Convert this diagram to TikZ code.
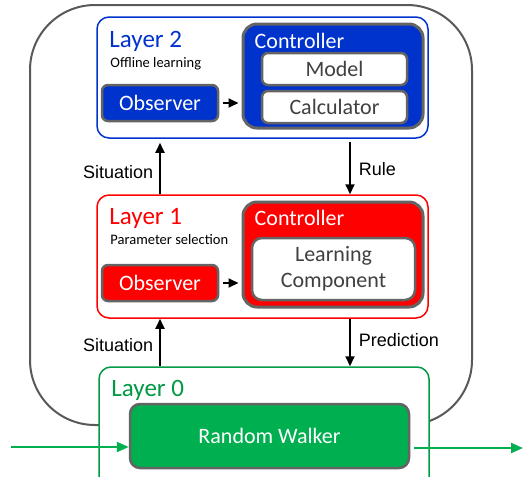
\documentclass[tikz,border=0pt]{standalone}
\usepackage{fontspec}
\setmainfont{Carlito}
\newfontfamily\labelfont{Liberation Sans}
\usepackage{tikz}
\usetikzlibrary{calc, positioning, arrows.meta}
\definecolor{layerBlue}{RGB}{0, 51, 204}
\definecolor{layerRed}{RGB}{255, 0, 0}
\definecolor{layerGreen}{RGB}{0, 153, 68}
\definecolor{walkerGreen}{RGB}{0, 176, 80}
\definecolor{boxGray}{RGB}{100, 100, 100}
\definecolor{outerGray}{RGB}{89, 89, 89}
\definecolor{textGray}{RGB}{64, 64, 64}

\begin{document}
\begin{tikzpicture}[
  x=1pt, y=-1pt,
  layer/.style={draw, line width=1.5pt, fill=white, rounded corners=12pt, minimum width=331pt, inner sep=0pt},
  inner/.style={draw=boxGray, line width=2.5pt, rounded corners=6pt, inner sep=0pt, font=\fontsize{22}{26}\selectfont},
  part/.style={inner, fill=white, text=textGray, minimum width=145pt, minimum height=32pt},
  title/.style={anchor=base west, inner sep=0pt, font=\fontsize{25}{30}\selectfont},
  sub/.style={anchor=base west, inner sep=0pt, font=\fontsize{14.5}{17}\selectfont},
  flow/.style={-{Triangle[length=10pt, width=9pt]}, line width=1.8pt},
  feed/.style={-{Triangle[length=12pt, width=10pt]}, line width=2pt, walkerGreen},
  lbl/.style={font=\labelfont\fontsize{18}{21}\selectfont, inner sep=0pt}
]
  \useasboundingbox (0,0) rectangle (523,477);
  \clip (0,0) rectangle (523,477);

  % Outer frame
  \draw[outerGray, line width=2pt, rounded corners=65pt] (30,5) rectangle (472,425);

  % Layer 2 (blue)
  \node[layer, draw=layerBlue, minimum height=121pt] (layer2) at (262.5,77.5) {};
  \node[title, text=layerBlue] at ([xshift=13pt, yshift=-31pt]layer2.north west) {Layer 2};
  \node[sub] at ([xshift=14pt, yshift=-51pt]layer2.north west) {Offline learning};
  \node[inner, fill=layerBlue, text=white, minimum width=116pt, minimum height=36pt] (obs2) at (160,103) {Observer};
  \node[inner, line width=3pt, rounded corners=14pt, fill=layerBlue, minimum width=180pt, minimum height=104pt] (ctrl2) at (333,76) {};
  \node[title, text=white, font=\fontsize{22}{26}\selectfont] at ([xshift=13pt, yshift=-26pt]ctrl2.north west) {Controller};
  \node[part] (model) at (334.5,69) {Model};
  \node[part] (calc) at (334.5,107) {Calculator};

  % Layer 1 (red)
  \node[layer, draw=layerRed, minimum height=123pt] (layer1) at (262.5,256.5) {};
  \node[title, text=layerRed] at ([xshift=13pt, yshift=-30pt]layer1.north west) {Layer 1};
  \node[sub] at ([xshift=14pt, yshift=-50pt]layer1.north west) {Parameter selection};
  \node[inner, fill=layerRed, text=white, minimum width=116pt, minimum height=36pt] (obs1) at (160,283) {Observer};
  \node[inner, line width=3pt, rounded corners=14pt, fill=layerRed, minimum width=180pt, minimum height=105pt] (ctrl1) at (333,254.5) {};
  \node[title, text=white, font=\fontsize{22}{26}\selectfont] at ([xshift=13pt, yshift=-25pt]ctrl1.north west) {Controller};
  \node[part, rounded corners=10pt, align=center, minimum width=163pt, minimum height=62pt] (learn) at (333.5,269) {Learning\\Component};

  % Layer 0 (green)
  \node[layer, draw=layerGreen, minimum width=330pt, minimum height=133pt] (layer0) at (264,433.5) {};
  \node[title, text=layerGreen] at ([xshift=13pt, yshift=-30pt]layer0.north west) {Layer 0};
  \node[inner, rounded corners=10pt, fill=walkerGreen, text=white, minimum width=279pt, minimum height=64pt] (walker) at (269.5,436) {Random Walker};

  % Inside the layers
  \draw[flow, shorten <=4pt, shorten >=3pt] (obs2.east) -- (obs2.east -| ctrl2.west);
  \draw[flow, shorten <=4pt, shorten >=3pt] (obs1.east) -- (obs1.east -| ctrl1.west);

  % Between the layers
  \draw[flow, shorten >=4pt] (layer1.north -| obs1) -- (layer2.south -| obs1)
    node[lbl, pos=0.4, left=6pt] {Situation};
  \draw[flow, shorten <=3pt] ([xshift=87.5pt]layer2.south) -- ([xshift=87.5pt]layer1.north)
    node[lbl, pos=0.55, right=8pt] {Rule};
  \draw[flow] (layer0.north -| obs1) -- (layer1.south -| obs1)
    node[lbl, pos=0.45, left=6pt] {Situation};
  \draw[flow] ([xshift=87.5pt]layer1.south) -- ([xshift=86pt]layer0.north)
    node[lbl, pos=0.45, right=8pt] {Prediction};

  % Input and output of the walker
  \coordinate (src) at (11,447);
  \coordinate (sink) at (523,448);
  \draw[feed] (src) -- (src -| walker.west);
  \draw[feed, shorten <=4pt] (walker.east |- sink) -- (sink);
\end{tikzpicture}
\end{document}
